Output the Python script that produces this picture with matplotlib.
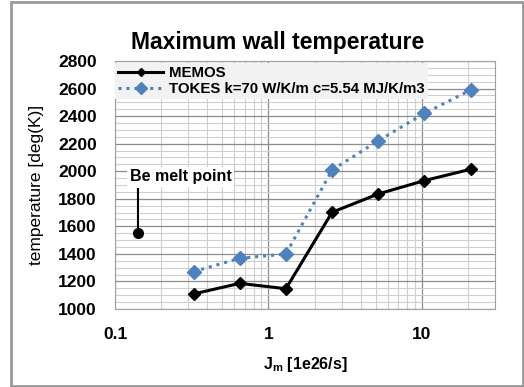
import numpy as np
from matplotlib import pyplot as plt
from matplotlib.ticker import FixedLocator, NullFormatter, MultipleLocator
from matplotlib.patches import Rectangle

plt.rcParams['font.family'] = ['Liberation Sans', 'DejaVu Sans']

flux = [0.325, 0.65, 1.3, 2.6, 5.2, 10.4, 20.8]
memos = [1109, 1186, 1147, 1702, 1835, 1932, 2014]
tokes = [1271, 1368, 1399, 2009, 2221, 2420, 2589]
melt_x = 0.141
melt_y = 1550

fig = plt.figure(figsize=(5.24, 3.87), dpi=100)
ax = fig.add_axes([0.2195, 0.2016, 0.7252, 0.6408])

# outer frame
fig.patches.append(Rectangle((10.5 / 524, 1.5 / 387), 512 / 524, 384 / 387,
                             transform=fig.transFigure, fill=False,
                             edgecolor='#999999', linewidth=2))

ax.set_xscale('log')
ax.set_xlim(0.1, 30)
ax.set_ylim(1000, 2800)

ax.xaxis.set_major_locator(FixedLocator([0.1, 1, 10]))
ax.xaxis.set_minor_locator(FixedLocator([k * 10.0 ** e for e in (-1, 0, 1) for k in range(2, 10)
                                         if k * 10.0 ** e < 30]))
ax.xaxis.set_minor_formatter(NullFormatter())
ax.set_xticklabels(['0.1', '1', '10'])
ax.yaxis.set_major_locator(MultipleLocator(200))
ax.yaxis.set_minor_locator(MultipleLocator(50))

ax.grid(which='major', color='#8c8c8c', linewidth=0.9)
ax.grid(which='minor', color='#cfcfcf', linewidth=0.8)
ax.set_axisbelow(True)
for s in ax.spines.values():
    s.set_color('#a0a0a0')
    s.set_linewidth(0.8)
ax.tick_params(which='both', length=0)
ax.tick_params(axis='y', labelsize=12.5, pad=13)
ax.tick_params(axis='x', labelsize=12.5, pad=13)
for lab in ax.get_xticklabels() + ax.get_yticklabels():
    lab.set_fontweight('bold')

ax.plot(flux, memos, color='black', linewidth=2.2, marker='D', markersize=6.5,
        label='MEMOS', zorder=4)
ax.plot(flux, tokes, color='#4F81BD', linewidth=2.2, linestyle=(0, (1, 1.6)),
        marker='D', markersize=7.5, label='TOKES k=70 W/K/m c=5.54 MJ/K/m3', zorder=3)

# Be melt point marker
ax.plot([melt_x, melt_x], [melt_y, 1870], color='black', linewidth=1.5, zorder=5)
ax.plot([melt_x], [melt_y], marker='o', color='black', markersize=7, zorder=5)
ax.text(0.268, 1960, 'Be melt point', ha='center', va='center', fontsize=11.5,
        fontweight='bold', zorder=6,
        bbox=dict(facecolor='white', edgecolor='none', pad=2))

leg = ax.legend(loc='upper left', bbox_to_anchor=(0.0, 0.99), fontsize=10.8,
                frameon=True, fancybox=False, handlelength=3.0, handletextpad=0.4,
                borderpad=0.2, labelspacing=0.1, borderaxespad=0.0)
leg.get_frame().set_facecolor('#f2f2f2')
leg.get_frame().set_edgecolor('none')
leg.get_frame().set_alpha(1)
leg.legend_handles[0].set_markersize(4.5)
leg.legend_handles[1].set_markersize(6)
for t in leg.get_texts():
    t.set_fontweight('bold')

fig.text(278 / 524, 1 - 42 / 387, 'Maximum wall temperature', ha='center', va='center',
         fontsize=16.5, fontweight='bold')
ax.set_ylabel('temperature [deg(K)]', fontsize=12.5, labelpad=10)
ax.set_xlabel('J$_\\mathregular{m}$ [1e26/s]', fontsize=11.5, fontweight='bold', labelpad=9)

fig.savefig('out.png', dpi=100)
